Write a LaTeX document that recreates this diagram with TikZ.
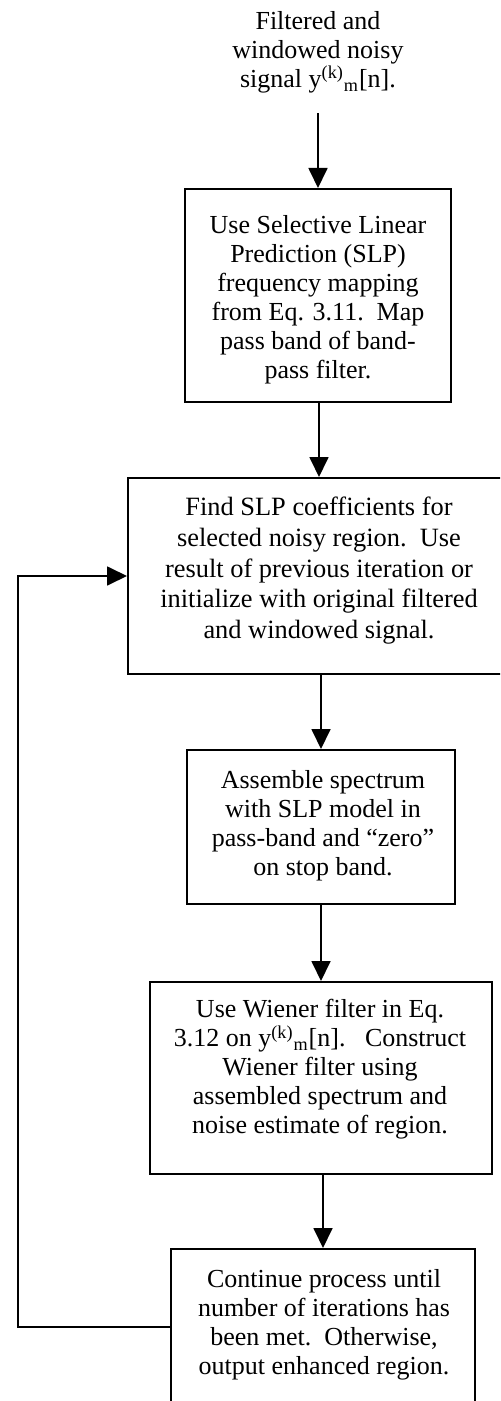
\documentclass[tikz,border=0pt]{standalone}
\usepackage{fontspec}
\setmainfont{Liberation Serif}
\usetikzlibrary{arrows.meta}
\tikzset{
  box/.style={draw, line width=1pt, rectangle, inner sep=0pt},
  txt/.style={align=center, inner sep=0pt, anchor=north, font=\fontsize{13}{14.5}\selectfont},
  arr/.style={line width=0.9pt, -{Triangle[length=10pt,width=9.5pt]}},
}
\begin{document}
\begin{tikzpicture}[x=0.5pt, y=-0.5pt]
\useasboundingbox (0,0) rectangle (500,1401);
\clip (0,0) rectangle (500,1401);
% top text
\node[txt] (t0) at (318,11) {Filtered and\\windowed noisy\\signal y\textsuperscript{(k)}\textsubscript{m}[n].};
% boxes
\node[box, minimum width=133pt, minimum height=106.5pt] (b1) at (318,295.5) {};
\node[box, minimum width=191pt, minimum height=98pt] (b2) at (319,576) {};
\node[box, minimum width=134pt, minimum height=77pt] (b3) at (321,827) {};
\node[box, minimum width=171pt, minimum height=96pt] (b4) at (321,1078) {};
\node[box, minimum width=152pt, minimum height=78pt] (b5) at (323,1327) {};
% texts
\node[txt] (t1) at (318,215) {Use Selective Linear\\Prediction (SLP)\\frequency mapping\\from Eq. 3.11.\ \ Map\\pass band of band-\\pass filter.};
\node[txt, font=\fontsize{13.2}{15.3}\selectfont] (t2) at (319,497) {Find SLP coefficients for\\selected noisy region.\ \ Use\\result of previous iteration or\\initialize with original filtered\\and windowed signal.};
\node[txt] (t3) at (323,770) {Assemble spectrum\\with SLP model in\\pass-band and “zero”\\on stop band.};
\node[txt] (t4) at (320,999) {Use Wiener filter in Eq.\\3.12 on y\textsuperscript{(k)}\textsubscript{m}[n].\ \ \ Construct\\Wiener filter using\\assembled spectrum and\\noise estimate of region.};
\node[txt] (t5) at (324,1269) {Continue process until\\number of iterations has\\been met.\ \ Otherwise,\\output enhanced region.};
% connectors
\draw[arr, shorten <=10pt] (t0.south) -- (b1.north);
\draw[arr] (b2.north |- b1.south) -- (b2.north);
\draw[arr] (b3.north |- b2.south) -- (b3.north);
\draw[arr] (b4.north |- b3.south) -- (b4.north);
\draw[arr] (b5.north |- b4.south) -- (b5.north);
\coordinate (fb) at (18,1327);
\draw[arr] (b5.west) -- (fb) |- (b2.west);
\end{tikzpicture}
\end{document}
